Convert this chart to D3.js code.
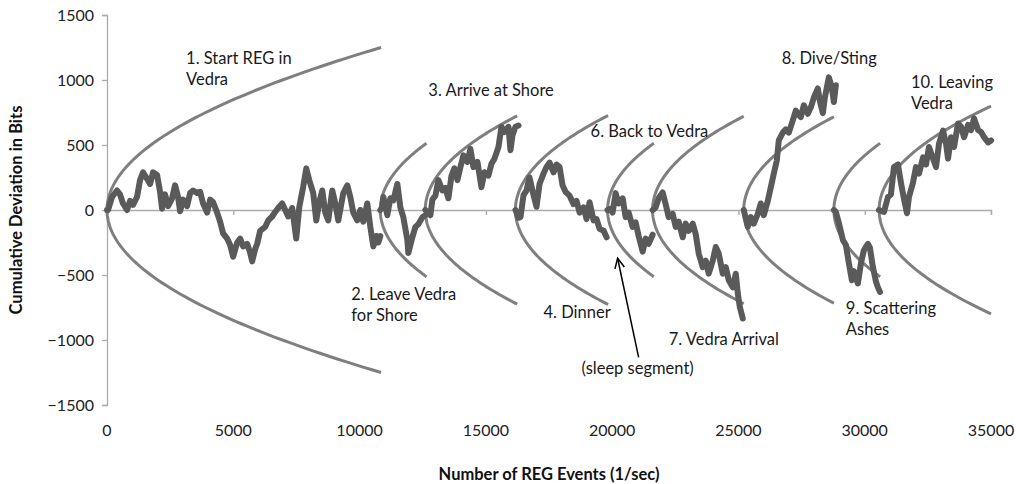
<!DOCTYPE html>
<html>
<head>
<meta charset="utf-8">
<script src="https://cdn.jsdelivr.net/npm/d3@7/dist/d3.min.js"></script>
<style>
  body { margin: 0; background: #fff; }
  text { font-family: Lato, "Open Sans", sans-serif; }
</style>
</head>
<body>
<svg id="chart" width="1016" height="484"></svg>
<script>
// Axis ticks
const xTicks = [0, 5000, 10000, 15000, 20000, 25000, 30000, 35000];
const yTicks = [-1500, -1000, -500, 0, 500, 1000, 1500];

// Each REG run: first event, last event (the envelope spans this range)
const runStarts = [0, 10820, 12600, 16170, 19820, 21600, 25210, 28780, 30570];
const runEnds   = [10850, 12650, 16240, 19840, 21650, 25210, 28780, 30610, 35000];
// Envelope coefficient: bits of deviation per sqrt(event)
const envelopeK = 12;

// Cumulative deviation traces, [event, bits]
const run1 = [
  [0,0],[40,0],[198,100],[396,150],[515,120],[634,50],[793,0],[912,70],[1031,40],[1189,100],
  [1308,230],[1427,290],[1586,240],[1705,200],[1823,290],[1982,270],[2101,140],[2180,10],[2299,120],[2418,30],
  [2577,90],[2696,190],[2814,100],[2894,-10],[3013,80],[3171,30],[3290,130],[3409,150],[3568,130],[3687,140],
  [3805,50],[3964,-20],[4083,80],[4202,60],[4360,-20],[4479,-90],[4598,-180],[4757,-220],[4876,-270],[4995,-360],
  [5153,-250],[5272,-220],[5391,-280],[5550,-260],[5669,-330],[5748,-395],[5867,-300],[5946,-260],[6065,-160],[6263,-130],
  [6382,-80],[6541,-50],[6660,-15],[6778,15],[6937,50],[7056,0],[7175,-50],[7333,15],[7492,-220],[7611,20],
  [7770,180],[7889,320],[8008,230],[8166,130],[8285,-80],[8404,60],[8523,150],[8642,-20],[8760,-80],[8919,150],
  [9038,50],[9157,-80],[9355,130],[9514,190],[9633,100],[9752,-20],[9910,-80],[10029,0],[10148,-90],[10306,50],
  [10425,-130],[10544,-280],[10663,-200],[10742,-250],[10822,-200]
];
const run2 = [
  [10822,0],[10901,20],[10941,100],[11099,-40],[11218,90],[11337,75],[11496,200],[11615,20],[11733,-55],[11892,-230],
  [11932,-330],[12090,-210],[12209,-130],[12328,-110],[12487,-55],[12606,-40]
];
const run3 = [
  [12606,0],[12804,-40],[12883,80],[13002,110],[13121,230],[13280,150],[13398,170],[13517,90],[13636,260],[13755,320],
  [13874,230],[13993,330],[14112,420],[14270,370],[14389,470],[14508,330],[14667,370],[14825,175],[14944,290],[15103,265],
  [15222,355],[15341,395],[15499,485],[15618,640],[15737,600],[15896,640],[15975,460],[16054,575],[16173,640],[16292,650]
];
const run4 = [
  [16173,0],[16292,-60],[16372,-55],[16490,115],[16609,150],[16728,250],[16887,115],[17006,25],[17125,200],[17283,280],
  [17402,330],[17521,365],[17680,290],[17799,350],[17918,330],[18036,190],[18155,140],[18314,110],[18472,45],[18591,70],
  [18710,-20],[18869,20],[18988,-70],[19106,60],[19265,-80],[19384,-70],[19503,-145],[19662,-160],[19781,-210]
];
const run5 = [
  [19820,0],[19939,10],[20018,-20],[20137,130],[20256,50],[20415,90],[20534,-55],[20653,-20],[20811,-130],[20930,-95],
  [21049,-200],[21208,-320],[21327,-220],[21446,-260],[21604,-190]
];
const run6 = [
  [21604,0],[21723,20],[21842,90],[22000,135],[22119,45],[22238,-55],[22397,-30],[22516,-130],[22635,-90],[22793,-210],
  [22912,-105],[23031,-160],[23190,-105],[23309,-185],[23428,-335],[23587,-440],[23706,-390],[23824,-490],[23983,-390],[24102,-285],
  [24221,-335],[24380,-490],[24499,-440],[24618,-540],[24777,-595],[24896,-490],[24975,-640],[25053,-745],[25172,-835]
];
const run7 = [
  [25211,0],[25370,-130],[25489,-55],[25608,-105],[25766,-30],[25885,50],[26004,-40],[26163,70],[26282,175],[26400,280],
  [26519,380],[26598,535],[26757,595],[26876,620],[26995,595],[27153,690],[27272,765],[27391,730],[27470,715],[27589,805],
  [27748,740],[27867,790],[27986,865],[28144,935],[28223,840],[28342,745],[28421,865],[28580,1020],[28699,940],[28779,830],
  [28858,960]
];
const run8 = [
  [28779,0],[28858,-15],[28977,-100],[29135,-230],[29254,-270],[29373,-410],[29492,-540],[29571,-470],[29730,-565],[29849,-410],
  [29968,-310],[30126,-260],[30206,-290],[30325,-440],[30444,-550],[30523,-595],[30603,-630]
];
const run9 = [
  [30563,0],[30761,-15],[30919,100],[31038,120],[31157,330],[31316,350],[31435,210],[31554,85],[31673,-25],[31752,100],
  [31911,210],[32030,330],[32149,280],[32308,405],[32427,350],[32545,485],[32704,395],[32823,330],[32942,510],[33101,610],
  [33220,510],[33299,395],[33418,560],[33537,485],[33695,665],[33814,640],[33933,560],[34092,655],[34211,615],[34330,705],
  [34488,615],[34607,600],[34726,560],[34885,520],[35003,535]
];
const runs = [run1, run2, run3, run4, run5, run6, run7, run8, run9];

// Event notes
const noteTexts = [
  ["1. Start REG in", "Vedra"],
  ["2. Leave Vedra", "for Shore"],
  ["3. Arrive at Shore"],
  ["4. Dinner"],
  ["6. Back to Vedra"],
  ["7. Vedra Arrival"],
  ["8. Dive/Sting"],
  ["9. Scattering", "Ashes"],
  ["10. Leaving", "Vedra"],
  ["(sleep segment)"]
];

const svg = d3.select("#chart");
const margin = { left: 107, right: 25, top: 15, bottom: 79 };
const W = 1016, H = 484;

const x = d3.scaleLinear().domain([0, 35000]).range([margin.left, W - margin.right]);
const y = d3.scaleLinear().domain([-1500, 1500]).range([H - margin.bottom, margin.top]);

const axisColor = "#ababab";

// Y axis
const yAxis = svg.append("g")
  .attr("transform", `translate(${x(0)},0)`)
  .call(d3.axisLeft(y).tickValues(yTicks).tickSize(5).tickPadding(8).tickFormat(d3.format("d")));
yAxis.select(".domain").attr("stroke", axisColor).attr("stroke-width", 1.3);
yAxis.selectAll(".tick line").attr("stroke", axisColor).attr("stroke-width", 1.3);
yAxis.selectAll(".tick text").attr("font-size", 16).attr("fill", "#222").attr("font-family", "Lato");

// X axis line at zero, labels along the bottom
const xAxis = svg.append("g")
  .attr("transform", `translate(0,${y(0)})`)
  .call(d3.axisBottom(x).tickValues(xTicks).tickSize(5).tickFormat(""));
xAxis.select(".domain").attr("stroke", axisColor).attr("stroke-width", 1.3);
xAxis.selectAll(".tick line").attr("stroke", axisColor).attr("stroke-width", 1.3);

svg.append("g").selectAll("text").data(xTicks).join("text")
  .attr("x", d => x(d)).attr("y", y(-1500) + 31)
  .attr("text-anchor", "middle").attr("font-size", 16).attr("fill", "#222")
  .text(d => d3.format("d")(d));

// Axis titles
svg.append("text")
  .attr("x", (x(0) + x(35000)) / 2).attr("y", 480)
  .attr("text-anchor", "middle").attr("font-size", 16.5).attr("font-weight", "bold").attr("fill", "#111")
  .text("Number of REG Events (1/sec)");
svg.append("text")
  .attr("transform", `translate(22,${y(0)}) rotate(-90)`)
  .attr("text-anchor", "middle").attr("font-size", 16.5).attr("font-weight", "bold").attr("fill", "#111")
  .text("Cumulative Deviation in Bits");

// Envelopes: sideways parabolas, bits = ±k·sqrt(events since run start)
const envLine = d3.line().x(d => x(d[0])).y(d => y(d[1]));
runStarts.forEach((s, i) => {
  const len = runEnds[i] - s;
  const half = envelopeK * Math.sqrt(len);
  const pts = d3.range(-1, 1.0001, 1 / 60).map(t => [s + len * t * t, half * t]);
  svg.append("path").attr("d", envLine(pts))
    .attr("fill", "none").attr("stroke", "#7f7f7f").attr("stroke-width", 3);
});

// Deviation traces
const walkLine = d3.line().x(d => x(d[0])).y(d => y(d[1]));
runs.forEach(r => {
  svg.append("path").attr("d", walkLine(r))
    .attr("fill", "none").attr("stroke", "#5a5a5a").attr("stroke-width", 6)
    .attr("stroke-linejoin", "round").attr("stroke-linecap", "round");
});

// Notes placed in data space: [event, bits]
const noteAnchors = [
  [3132, 1120], [9672, -694], [12724, 874], [17283, -833], [19146, 559],
  [22238, -1040], [26717, 1120], [29254, -802], [31831, 936], [18789, -1263]
];
const lineGap = 21;
noteTexts.forEach((lines, i) => {
  const t = svg.append("text")
    .attr("x", x(noteAnchors[i][0])).attr("y", y(noteAnchors[i][1]))
    .attr("font-size", 16.5).attr("fill", "#1a1a1a");
  lines.forEach((ln, j) => {
    t.append("tspan").attr("x", x(noteAnchors[i][0])).attr("dy", j === 0 ? 0 : lineGap).text(ln);
  });
});

// Arrow to the sleep segment
const arrowFrom = [21049, -1133], arrowTo = [20216, -371];
const ax0 = x(arrowFrom[0]), ay0 = y(arrowFrom[1]), ax1 = x(arrowTo[0]), ay1 = y(arrowTo[1]);
svg.append("line").attr("x1", ax0).attr("y1", ay0).attr("x2", ax1).attr("y2", ay1)
  .attr("stroke", "#000").attr("stroke-width", 1.5);
const ang = Math.atan2(ay0 - ay1, ax0 - ax1);
const headLen = 11, spread = 0.45;
svg.append("path")
  .attr("d", `M${ax1 + headLen * Math.cos(ang - spread)},${ay1 + headLen * Math.sin(ang - spread)} L${ax1},${ay1} L${ax1 + headLen * Math.cos(ang + spread)},${ay1 + headLen * Math.sin(ang + spread)}`)
  .attr("fill", "none").attr("stroke", "#000").attr("stroke-width", 1.5);
</script>
</body>
</html>
